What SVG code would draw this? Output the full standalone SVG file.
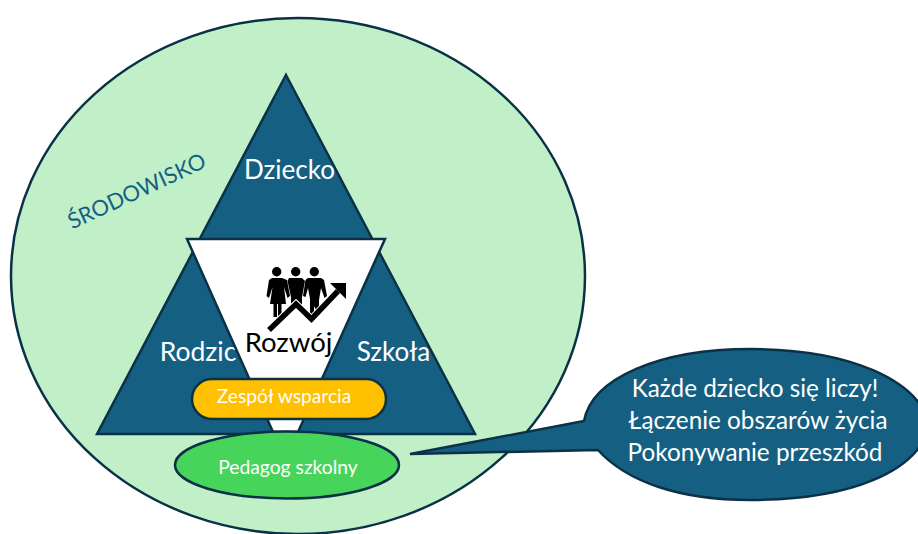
<svg xmlns="http://www.w3.org/2000/svg" width="918" height="534" viewBox="0 0 918 534">
<style>
text{font-family:"Lato","Open Sans","Liberation Sans",sans-serif;text-anchor:middle}
.w{fill:#fff}
.s{stroke:#0b3147;stroke-width:2.5;stroke-linejoin:miter}
.b{fill:#156082}
.k{fill:#000}
</style>
<rect width="918" height="534" fill="#fff"/>
<g id="srodowisko">
<ellipse cx="298" cy="276" rx="287" ry="258" fill="#c1f0c8" stroke="#0b3147" stroke-width="2.500"/>
<text x="140" y="198" font-size="22" fill="#156082" transform="rotate(-25 140 198)">ŚRODOWISKO</text>
</g>
<g id="trojkat">
<path class="b s" d="M286 75L475 434H97Z"/>
<text class="w" x="289.500" y="179" font-size="26">Dziecko</text>
<text class="w" x="198" y="361" font-size="26.500">Rodzic</text>
<text class="w" x="393.500" y="361" font-size="26">Szkoła</text>
</g>
<g id="rozwoj">
<path class="s" fill="#fff" d="M187 239H385L298 432H273Z"/>
<g class="k">
<circle cx="276.700" cy="271.700" r="4.700"/><circle cx="295.700" cy="271.700" r="4.700"/><circle cx="314.300" cy="271.700" r="4.700"/>
<path d="M272 278H282L287 280L290 296L287.500 298L284 287L286 304H281.500V317H278V304H277V317H273.500V304H270L272.500 287L269 298L266.500 296L269 280Z"/>
<path d="M289 278H302L305 281L302 297V305H291V297L287.500 281Z"/>
<path d="M308 278H321L324 280L327 296L324.500 298L321 288L319 300V310H316L314 306V312L310 316V299L308 288L305.500 297L303 296L305.500 280Z"/>
</g>
<path d="M269 330L296 304L311.500 319L338 291" fill="none" stroke="#fff" stroke-width="7.500"/>
<path d="M269 330L296 304L311.500 319L338 291" fill="none" stroke="#000" stroke-width="5.500"/>
<path class="k" d="M330 283H346V299Z"/>
<text x="288.500" y="352" font-size="27.500" fill="#000">Rozwój</text>
</g>
<g id="zespol">
<rect class="s" x="192" y="379" width="194" height="40" rx="20" fill="#ffc000"/>
<text class="w" x="284" y="403" font-size="19.200">Zespół wsparcia</text>
</g>
<g id="pedagog">
<ellipse class="s" cx="287" cy="465" rx="112" ry="33.500" fill="#47d45a"/>
<text class="w" x="288" y="474" font-size="19.300">Pedagog szkolny</text>
</g>
<g id="connectors"></g>
<g id="dymek">
<path class="b s" d="M410 454L584 421C592 378 660 349 750 349C850 349 918 380 930 425C918 472 850 500 750 500C680 500 627 482 598 450Z"/>
<text class="w" x="755" y="397" font-size="24.300">Każde dziecko się liczy!</text>
<text class="w" x="758" y="429" font-size="24.300">Łączenie obszarów życia</text>
<text class="w" x="755" y="461" font-size="24.300">Pokonywanie przeszkód</text>
</g>
</svg>
